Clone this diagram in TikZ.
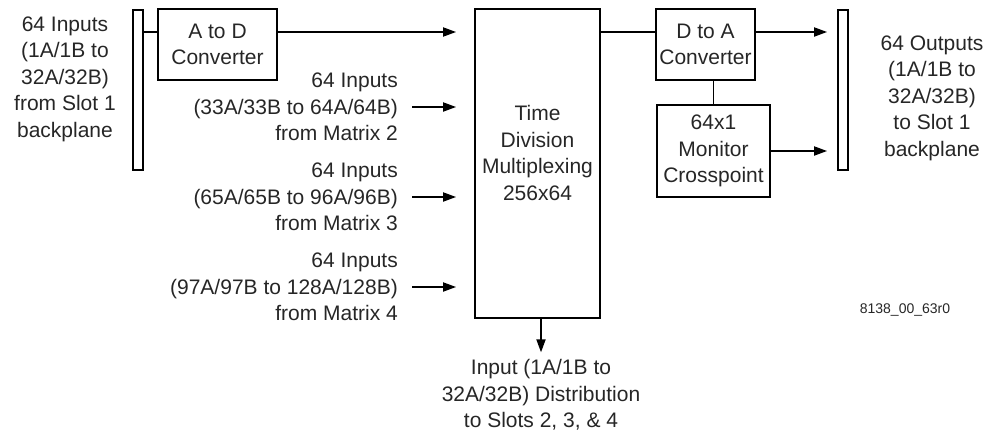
\documentclass[tikz,border=0pt]{standalone}
\usepackage{fontspec}
\setmainfont{Liberation Sans}
\usetikzlibrary{arrows.meta}
\tikzset{
  box/.style={draw=black, line width=1.8pt, inner sep=0pt, align=center, text=black!85,
              font=\fontsize{21}{26.5}\selectfont},
  lbl/.style={inner sep=0pt, align=center, text=black!85, font=\fontsize{21}{26.5}\selectfont},
  lblr/.style={lbl, align=right, anchor=east},
  wire/.style={line width=1.8pt},
  arr/.style={wire, -{Triangle[length=13pt,width=9pt]}}
}
\begin{document}
\begin{tikzpicture}[x=1pt,y=-1pt]
\useasboundingbox (0,0) rectangle (984,434);
\coordinate (row1) at (0,32);
% bars
\node[box, minimum width=10pt, minimum height=160pt] (lbar) at (138,90) {};
\node[box, minimum width=10pt, minimum height=160pt] (rbar) at (843,90) {};
% boxes
\node[box, minimum width=119pt, minimum height=71pt] (ad) at (217.5,44.5) {A to D\\Converter};
\node[box, minimum width=125pt, minimum height=309pt] (tdm) at (537.5,163.5) {};
\node[lbl] (tdmtext) at (537.5,153) {Time\\Division\\Multiplexing\\256x64};
\node[box, minimum width=99pt, minimum height=71pt] (da) at (705.5,44.5) {D to A\\Converter};
\node[box, minimum width=113pt, minimum height=92pt] (mon) at (713.5,151) {64x1\\Monitor\\Crosspoint};
% labels
\node[lbl] (inl) at (65,79) {64 Inputs\\(1A/1B to\\32A/32B)\\from Slot 1\\backplane};
\node[lbl] (outl) at (932,98) {64 Outputs\\(1A/1B to\\32A/32B)\\to Slot 1\\backplane};
\node[lblr] (m2) at (398,107) {64 Inputs\\(33A/33B to 64A/64B)\\from Matrix 2};
\node[lblr] (m3) at (398,197) {64 Inputs\\(65A/65B to 96A/96B)\\from Matrix 3};
\node[lblr] (m4) at (398,287) {64 Inputs\\(97A/97B to 128A/128B)\\from Matrix 4};
\node[lbl] (dist) at (541,395) {Input (1A/1B to\\32A/32B) Distribution\\to Slots 2, 3, \& 4};
\node[inner sep=0pt, text=black!85, font=\fontsize{14}{16}\selectfont] (fig) at (905,310) {8138\_00\_63r0};
% connectors
\draw[wire] (lbar.east |- row1) -- (ad.west |- row1);
\draw[arr, shorten >=18pt] (ad.east |- row1) -- (tdm.west |- row1);
\draw[arr, shorten >=18pt] ([xshift=14pt]m2.east) -- (tdm.west |- m2.east);
\draw[arr, shorten >=18pt] ([xshift=14pt]m3.east) -- (tdm.west |- m3.east);
\draw[arr, shorten >=18pt] ([xshift=14pt]m4.east) -- (tdm.west |- m4.east);
\draw[arr, shorten >=7pt] (tdm.south -| dist.north) -- (dist.north);
\draw[wire] (tdm.east |- row1) -- (da.west |- row1);
\draw[arr, shorten >=10pt] (da.east |- row1) -- (rbar.west |- row1);
\draw[wire] (da.south -| mon.north) -- (mon.north);
\draw[arr, shorten >=10pt] (mon.east) -- (mon.east -| rbar.west);
\end{tikzpicture}
\end{document}
